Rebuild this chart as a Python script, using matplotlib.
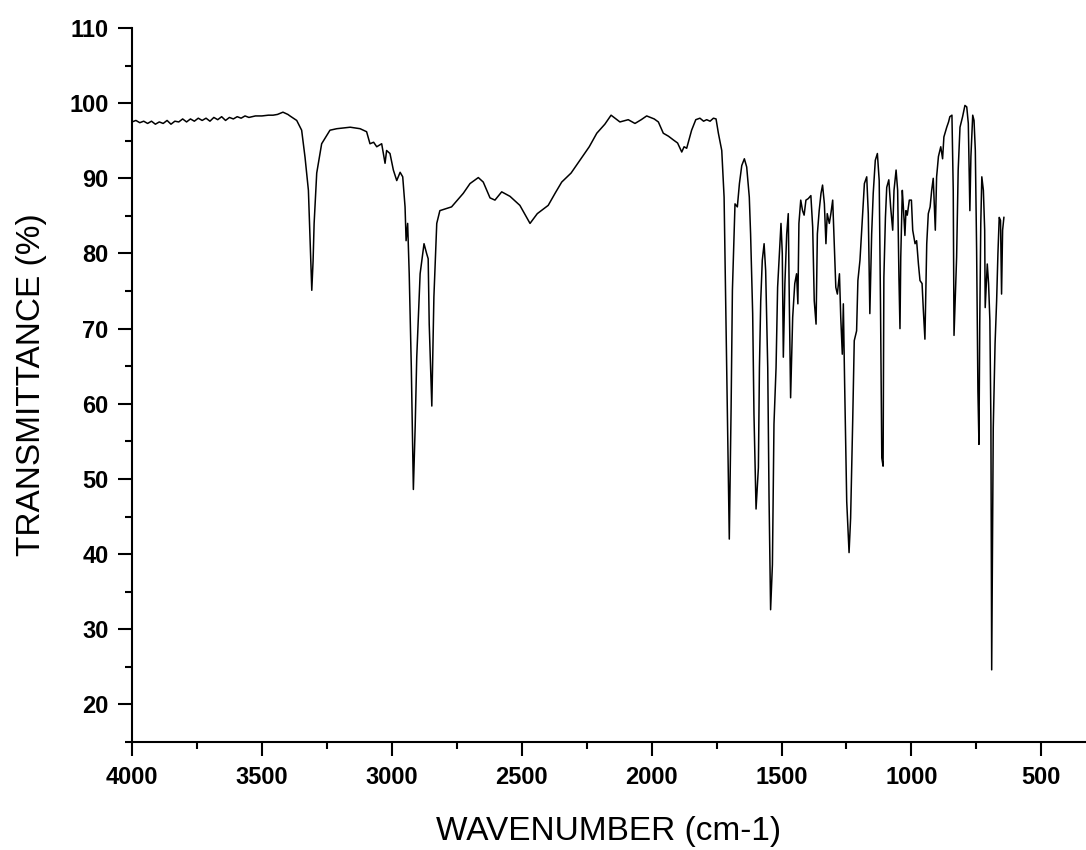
import matplotlib
matplotlib.use("Agg")
import matplotlib.pyplot as plt
from matplotlib.ticker import MultipleLocator

wavenumber = [
    4000, 3985, 3970, 3955, 3940, 3925, 3910, 3895, 3880, 3865, 3850, 3835, 3820, 3805, 3790,
    3775, 3760, 3745, 3730, 3715, 3700, 3685, 3670, 3655, 3640, 3625, 3610, 3595, 3580, 3565,
    3550, 3525, 3500, 3475, 3457, 3440, 3419, 3400, 3392, 3366, 3347, 3334,
    3321, 3313, 3308, 3303, 3299, 3289, 3270, 3238, 3212, 3160, 3122, 3097, 3084, 3070, 3058,
    3039, 3026, 3020, 3007, 2994, 2981, 2968, 2958, 2949, 2945, 2939, 2933, 2925, 2917, 2910,
    2904, 2891, 2876, 2866, 2860, 2856, 2846, 2838, 2827, 2815, 2770, 2725, 2699, 2667, 2648,
    2622, 2603, 2577, 2545, 2507, 2468, 2440, 2398, 2370, 2346, 2310, 2276, 2240, 2211, 2180,
    2156, 2122, 2090, 2064, 2040,
    2019, 1990, 1974, 1955, 1935, 1916, 1900, 1884, 1875, 1865, 1846, 1830, 1814, 1800, 1788,
    1775, 1762, 1752, 1743, 1730,
    1721, 1711, 1701, 1694, 1689, 1679, 1670, 1662, 1653, 1643, 1634, 1624, 1619, 1611, 1606,
    1598, 1589, 1585, 1580, 1574, 1567, 1561, 1553, 1548, 1542, 1535, 1529, 1521, 1515, 1508,
    1502, 1497, 1493, 1487, 1480, 1474, 1470, 1465, 1457, 1449, 1442, 1437, 1433, 1426, 1419,
    1413, 1406, 1397, 1387, 1380, 1374, 1367, 1362, 1355, 1348, 1342, 1335, 1329, 1324, 1316,
    1310, 1303, 1298, 1291, 1285, 1277, 1272, 1266, 1262, 1257, 1249, 1240, 1234, 1226, 1220,
    1211, 1206, 1198, 1189, 1181, 1172, 1166, 1160, 1153, 1147, 1139, 1131, 1124, 1119, 1114,
    1109, 1106, 1100, 1095, 1087, 1080, 1072, 1067, 1059, 1053, 1048, 1044, 1041, 1035, 1031,
    1025, 1021, 1016, 1008, 1000, 995, 986, 980, 973, 967, 959, 954, 948, 941, 935,
    928, 922, 916, 908, 903, 896, 887, 880, 875, 864, 857, 852, 844, 839, 836,
    826, 820, 813, 803, 794, 787, 781, 775, 771, 764, 759, 754, 749, 744, 740,
    737, 733, 729, 723, 718, 716, 708, 703, 698, 694, 691, 688, 685, 678, 672,
    667, 662, 657, 653, 649, 644,
]

transmittance = [
    97.5, 97.7, 97.4, 97.6, 97.3, 97.6, 97.2, 97.5, 97.3, 97.7, 97.2, 97.6, 97.5, 97.9, 97.5,
    97.9, 97.6, 98.0, 97.7, 98.0, 97.6, 98.1, 97.8, 98.2, 97.7, 98.1, 97.9, 98.2, 98.0, 98.3,
    98.1, 98.3, 98.3, 98.4, 98.4, 98.5, 98.8, 98.5, 98.3, 97.7, 96.4, 92.8,
    88.4, 80.0, 75.1, 79.0, 84.0, 90.7, 94.6, 96.4, 96.6, 96.8, 96.6, 96.2, 94.6, 94.8, 94.2,
    94.6, 92.0, 93.7, 93.3, 91.1, 89.7, 90.8, 90.2, 86.2, 81.7, 84.0, 77.3, 65.0, 48.6, 57.0,
    66.2, 77.3, 81.3, 80.0, 79.3, 70.6, 59.7, 74.2, 84.0, 85.7, 86.2, 88.0, 89.3, 90.1, 89.5,
    87.4, 87.1, 88.2, 87.6, 86.4, 84.0, 85.3, 86.4, 88.1, 89.5, 90.7, 92.4, 94.2, 96.0, 97.2,
    98.4, 97.5, 97.8, 97.3, 97.8,
    98.3, 97.9, 97.5, 96.0, 95.6, 95.1, 94.7, 93.5, 94.2, 94.0, 96.4, 97.8, 98.0, 97.6, 97.8,
    97.6, 98.0, 97.9, 96.0, 93.7,
    87.5, 64.8, 42.0, 59.5, 75.1, 86.6, 86.2, 89.3, 91.7, 92.6, 91.5, 87.5, 82.6, 72.0, 58.6,
    46.0, 51.5, 64.8, 73.7, 79.1, 81.3, 77.7, 64.8, 47.5, 32.6, 38.6, 57.3, 64.8, 75.5, 80.0,
    84.0, 80.0, 66.2, 76.0, 82.6, 85.3, 73.7, 60.8, 71.5, 76.0, 77.3, 73.3, 84.0, 87.1, 85.7,
    85.1, 87.1, 87.3, 87.7, 83.5, 73.7, 70.6, 82.6, 85.7, 88.0, 89.1, 86.6, 81.3, 85.3, 84.0,
    85.3, 87.1, 82.2, 75.5, 74.6, 77.3, 71.5, 66.6, 73.3, 62.6, 47.0, 40.2, 44.8, 57.7, 68.4,
    69.7, 76.4, 79.1, 84.4, 89.3, 90.2, 85.3, 72.0, 82.6, 88.0, 92.4, 93.3, 89.7, 73.3, 52.8,
    51.7, 76.8, 84.8, 88.8, 89.8, 86.2, 83.1, 88.4, 91.1, 88.4, 76.8, 70.0, 79.5, 88.4, 86.2,
    82.4, 85.7, 85.1, 87.1, 87.1, 83.1, 81.3, 81.7, 78.6, 76.4, 76.0, 72.4, 68.6, 81.3, 85.3,
    86.2, 88.4, 90.0, 83.1, 90.2, 92.9, 94.2, 92.6, 95.5, 96.8, 97.5, 98.2, 98.4, 88.4, 69.1,
    79.5, 91.1, 96.8, 98.2, 99.7, 99.5, 97.3, 85.7, 92.9, 98.4, 97.7, 93.7, 80.4, 61.7, 54.6,
    70.6, 84.0, 90.2, 88.4, 83.1, 72.8, 78.6, 76.0, 71.1, 57.3, 24.6, 40.0, 56.8, 68.0, 73.7,
    80.0, 84.8, 84.4, 74.6, 83.1, 84.8,
]

x_ticks = [4000, 3500, 3000, 2500, 2000, 1500, 1000, 500]
y_ticks = [20, 30, 40, 50, 60, 70, 80, 90, 100, 110]
x_label = "WAVENUMBER (cm-1)"
y_label = "TRANSMITTANCE (%)"

plt.rcParams["font.family"] = ["Liberation Sans", "DejaVu Sans"]

fig = plt.figure(figsize=(10.86, 8.5), dpi=100)
ax = fig.add_axes([132 / 1086, 1 - 742 / 850, (1086 - 132) / 1086, (742 - 28) / 850])

ax.plot(wavenumber, transmittance, color="black", lw=1.1)

ax.set_xlim(4000, 328)
ax.set_ylim(15, 110)
ax.set_xticks(x_ticks)
ax.set_yticks(y_ticks)
ax.xaxis.set_minor_locator(MultipleLocator(250))
ax.yaxis.set_minor_locator(MultipleLocator(5))

for s in ("top", "right"):
    ax.spines[s].set_visible(False)
for s in ("left", "bottom"):
    ax.spines[s].set_linewidth(1.5)

ax.tick_params(axis="both", which="major", direction="out", length=10, width=1.5,
               labelsize=17, pad=7)
ax.tick_params(axis="both", which="minor", direction="out", length=5, width=1.5)
for lab in ax.get_xticklabels() + ax.get_yticklabels():
    lab.set_fontweight("bold")

ax.set_xlabel(x_label, fontsize=24, labelpad=20)
ax.set_ylabel(y_label, fontsize=24, labelpad=16)

fig.savefig("out.png", dpi=100)
